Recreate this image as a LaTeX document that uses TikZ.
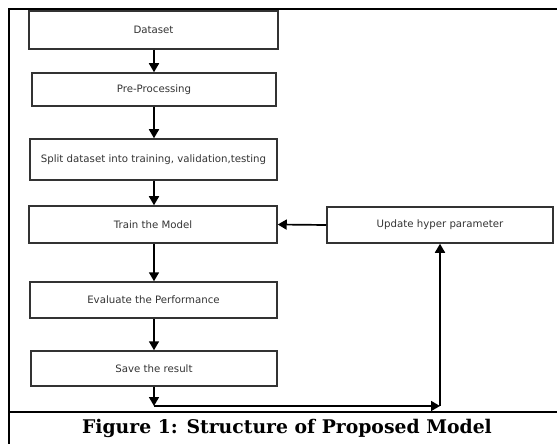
\documentclass[tikz,border=0pt]{standalone}
\usepackage{fontspec}
\setmainfont{DejaVu Sans}
\newfontfamily\capfont{DejaVu Serif}
\usetikzlibrary{arrows.meta}
\begin{document}
\begin{tikzpicture}[x=1pt,y=-1pt,
  box/.style={draw=black!80, line width=1.5pt, inner sep=0pt, font=\fontsize{10.2}{12}\selectfont, text=black!80},
  arr/.style={line width=1.7pt, -{Triangle[width=10pt,length=9pt]}}]
\useasboundingbox (0,0) rectangle (558,444);
% frame
\draw[line width=1.4pt] (9,444) -- (9,9) -- (557,9);
\draw[line width=1.4pt] (9,412) -- (557,412);
\node (cap) at (287,428) {\capfont\bfseries\fontsize{18.8}{20}\selectfont Figure 1: Structure of Proposed Model};
% boxes
\node[box, minimum width=249pt, minimum height=38pt] (ds) at (153.5,30) {Dataset};
\node[box, minimum width=244pt, minimum height=33pt] (pp) at (154,89.5) {Pre-Processing};
\node[box, minimum width=247pt, minimum height=41pt] (sp) at (153.5,159.5) {Split dataset into training, validation,testing};
\node[box, minimum width=248pt, minimum height=37pt] (tr) at (153,224.5) {Train the Model};
\node[box, minimum width=247pt, minimum height=36pt] (ev) at (153.5,300) {Evaluate the Performance};
\node[box, minimum width=246pt, minimum height=35pt] (sv) at (154,368.5) {Save the result};
\node[box, minimum width=226pt, minimum height=36pt] (up) at (440,225) {Update hyper parameter};
% connectors
\coordinate (c1) at (154,406);
\coordinate (c2) at (440,406);
\draw[arr] (ds.south -| 154,0) -- (pp.north -| 154,0);
\draw[arr] (pp.south -| 154,0) -- (sp.north -| 154,0);
\draw[arr] (sp.south -| 154,0) -- (tr.north -| 154,0);
\draw[arr] (tr.south -| 154,0) -- (ev.north -| 154,0);
\draw[arr] (ev.south -| 154,0) -- (sv.north -| 154,0);
\draw[arr] (sv.south -| c1) -- (c1);
\draw[arr] (c1) -- (c2);
\draw[arr] (c2) -- (up.south);
\draw[arr] (up.west) -- (tr.east);
\end{tikzpicture}
\end{document}
